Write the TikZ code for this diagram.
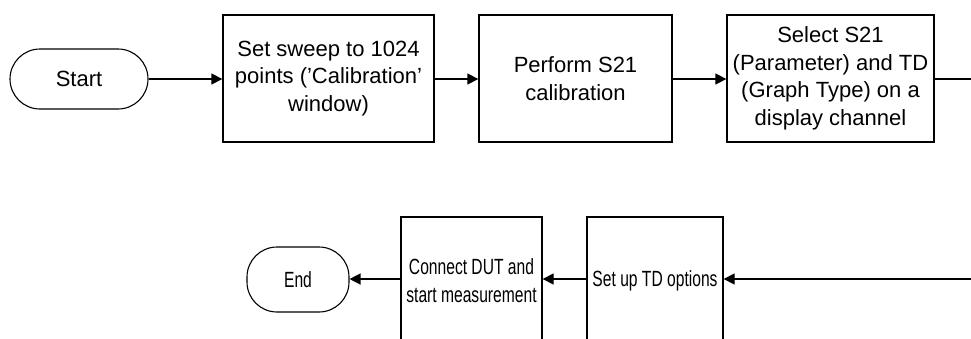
\documentclass[tikz,border=0pt]{standalone}
\usepackage{fontspec}
\setmainfont{Liberation Sans}
\newfontfamily\narrowsans{Liberation Sans}[FakeStretch=0.71]
\usetikzlibrary{arrows.meta}
\begin{document}
\begin{tikzpicture}[x=1pt,y=-1pt,
  every node/.style={font=\fontsize{22}{27.5}\selectfont, text=black, inner sep=0pt},
  narrow/.style={font=\narrowsans\fontsize{22}{28}\selectfont},
  procbox/.style={draw, line width=1.3pt, minimum height=127pt, align=center},
  term/.style={draw, line width=1.1pt, rounded corners=30pt, align=center},
  flow/.style={draw, line width=1.3pt, -{Triangle[length=11pt,width=11pt]}},
  plain/.style={draw, line width=1.3pt}]
\useasboundingbox (0,0) rectangle (971,338);
\clip (0,0) rectangle (971,338);
\fill[white] (0,0) rectangle (971,338);
% top row
\node[term, minimum width=138pt, minimum height=60pt] (start) at (79,79) {Start};
\node[procbox, minimum width=211pt] (b1) at (328.5,78.5) {Set sweep to 1024\\points ('Calibration'\\window)};
\node[procbox, minimum width=193pt] (b2) at (575.5,78.5) {Perform S21\\calibration};
\node[procbox, minimum width=207pt] (b3) at (830.5,78.5) {Select S21\\(Parameter) and TD\\(Graph Type) on a\\display channel};
\coordinate (r1) at (980,79);
% bottom row
\node[term, narrow, minimum width=102pt, minimum height=65pt] (end) at (298,279.5) {End};
\node[procbox, narrow, minimum width=141pt] (b4) at (471.5,280.5) {Connect DUT and\\start measurement};
\node[procbox, narrow, minimum width=136pt] (b5) at (655,280.5) {Set up TD options};
\coordinate (r2) at (980,279);
% connectors
\draw[flow] (start.east) -- (b1.west |- start.east);
\draw[flow] (b1.east |- start.east) -- (b2.west |- start.east);
\draw[flow] (b2.east |- start.east) -- (b3.west |- start.east);
\draw[plain] (b3.east |- start.east) -- (r1);
\draw[flow] (r2) -- (b5.east |- r2);
\draw[flow] (b5.west |- r2) -- (b4.east |- r2);
\draw[flow] (b4.west |- r2) -- (end.east |- r2);
\end{tikzpicture}
\end{document}
